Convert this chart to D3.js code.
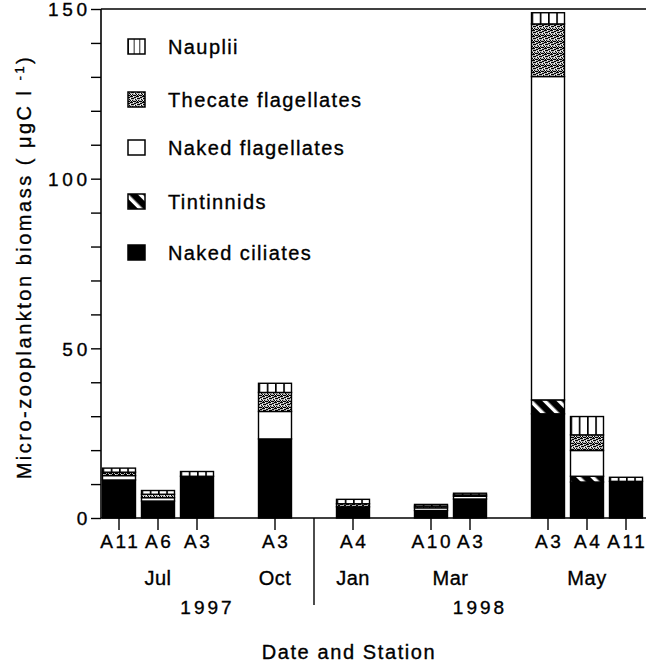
<!DOCTYPE html>
<html>
<head>
<meta charset="utf-8">
<script src="https://cdn.jsdelivr.net/npm/d3@7"></script>
<style>
  html, body { margin: 0; padding: 0; background: #fff; }
  svg { display: block; }
  text { font-family: Arial, "Liberation Sans", Helvetica, sans-serif; fill: #000;
         stroke: #000; stroke-width: 0.35px; }
</style>
</head>
<body>
<svg id="chart" width="646" height="666"></svg>
<script>
// Sampling occasions: station, month and year of each bar
const stations = ["A11", "A6", "A3", "A3", "A4", "A10", "A3", "A3", "A4", "A11"];
const months   = ["Jul", "Jul", "Jul", "Oct", "Jan", "Mar", "Mar", "May", "May", "May"];
const years    = ["1997", "1997", "1997", "1997", "1998", "1998", "1998", "1998", "1998", "1998"];

// Biomass of each group (µgC l-1), stacked from the bottom up
const nakedCiliates      = [11.2, 5.0, 12.3, 23.3, 3.3, 2.2, 5.6, 30.7, 10.6, 10.8];
const tintinnids         = [0.0, 0.0, 0.0, 0.0, 0.0, 0.0, 0.0, 4.1, 1.7, 0.0];
const nakedFlagellates   = [1.3, 1.0, 0.0, 8.1, 0.0, 0.8, 0.8, 95.3, 7.6, 0.0];
const thecateFlagellates = [1.0, 1.0, 0.0, 5.6, 0.9, 0.5, 0.4, 15.5, 4.6, 0.0];
const nauplii            = [1.2, 1.1, 1.4, 2.7, 1.3, 0.5, 0.5, 3.3, 5.4, 1.2];

const yTicks = [0, 50, 100, 150];
const groupNames = ["Naked ciliates", "Tintinnids", "Naked flagellates", "Thecate flagellates", "Nauplii"];

const svg = d3.select("#chart");
const W = 646, H = 666;
const m = { left: 101, right: 0, top: 9, bottom: 148 };
const y0 = H - m.bottom;

// ---- fill patterns ----
const defs = svg.append("defs");

// nauplii: vertical bars (4 columns per bar, 3 in the key)
function naupliiPattern(id, cols) {
  const p = defs.append("pattern").attr("id", id)
    .attr("patternUnits", "objectBoundingBox")
    .attr("patternContentUnits", "objectBoundingBox")
    .attr("width", 1 / cols).attr("height", 1);
  p.append("rect").attr("width", 1 / cols).attr("height", 1).attr("fill", "#fff");
  p.append("rect").attr("x", 0).attr("width", 0.05).attr("height", 1).attr("fill", "#000");
}
naupliiPattern("pat-naup", 4);
naupliiPattern("pat-naup-key", 3);

// thecate flagellates: stipple
const st = defs.append("pattern").attr("id", "pat-thec")
  .attr("patternUnits", "userSpaceOnUse").attr("width", 6).attr("height", 6);
st.append("rect").attr("width", 6).attr("height", 6).attr("fill", "#b4b4b4");
[[0,0],[2,1],[4,0],[1,2],[3,3],[5,2],[0,4],[2,5],[4,4],[5,5],[1,5],[3,1],[5,0],[0,2],[3,5]].forEach(([a, b]) =>
  st.append("rect").attr("x", a).attr("y", b).attr("width", 1).attr("height", 1).attr("fill", "#000"));
[[1,0],[4,2],[2,3],[5,4]].forEach(([a, b]) =>
  st.append("rect").attr("x", a).attr("y", b).attr("width", 1).attr("height", 1).attr("fill", "#fff"));

// tintinnids: black with white diagonal stripes
const tp = defs.append("pattern").attr("id", "pat-tint")
  .attr("patternUnits", "userSpaceOnUse").attr("width", 10).attr("height", 10)
  .attr("patternTransform", "rotate(-45)");
tp.append("rect").attr("width", 10).attr("height", 10).attr("fill", "#000");
tp.append("rect").attr("x", 0).attr("width", 3.5).attr("height", 10).attr("fill", "#fff");

const fills = ["#000", "url(#pat-tint)", "#fff", "url(#pat-thec)", "url(#pat-naup)"];
const keyFills = ["#000", "url(#pat-tint)", "#fff", "url(#pat-thec)", "url(#pat-naup-key)"];

// ---- scales ----
// each month forms a group; one empty slot separates consecutive months
const ids = stations.map((s, i) => months[i] + "-" + s + "-" + i);
const domain = [];
ids.forEach((id, i) => {
  if (i > 0 && months[i] !== months[i - 1]) domain.push("gap-" + i);
  domain.push(id);
});
const x = d3.scaleBand().domain(domain).range([99.5, 645.5])
  .paddingInner(0.154).paddingOuter(0.077);
const y = d3.scaleLinear().domain([0, 150]).range([y0, m.top]);

// ---- stacked bars ----
const series = [nakedCiliates, tintinnids, nakedFlagellates, thecateFlagellates, nauplii];
const rows = stations.map((s, i) => {
  const r = { id: ids[i] };
  groupNames.forEach((g, k) => r[g] = series[k][i]);
  return r;
});
const stacked = d3.stack().keys(groupNames)(rows);

const gBars = svg.append("g");
stacked.forEach((layer, k) => {
  gBars.selectAll(null).data(layer.filter(d => d[1] - d[0] > 0)).join("rect")
    .attr("x", d => x(d.data.id))
    .attr("width", x.bandwidth())
    .attr("y", d => y(d[1]))
    .attr("height", d => y(d[0]) - y(d[1]))
    .attr("fill", fills[k])
    .attr("stroke", "#000").attr("stroke-width", 1.4);
});

// ---- axes ----
const yAxis = d3.axisLeft(y).tickValues(d3.range(0, 151, 10)).tickSize(10)
  .tickFormat(d => yTicks.includes(d) ? d : "");
const gy = svg.append("g").attr("transform", `translate(${m.left},0)`).call(yAxis);
gy.select(".domain").attr("stroke-width", 1.6).attr("d", `M0,${y0}V${m.top}`);
gy.selectAll(".tick line").attr("stroke-width", 1.4);
gy.selectAll(".tick text").attr("font-size", 19).attr("letter-spacing", 3.8)
  .attr("x", -10).attr("dy", "0.36em").attr("font-family", "Arial, sans-serif");

// top border
svg.append("line").attr("x1", m.left).attr("x2", W).attr("y1", m.top).attr("y2", m.top)
  .attr("stroke", "#000").attr("stroke-width", 1.6);

// x axis with station ticks
const xAxis = d3.axisBottom(x).tickValues(ids).tickSize(12)
  .tickFormat(d => stations[ids.indexOf(d)]);
const gx = svg.append("g").attr("transform", `translate(0,${y0})`).call(xAxis);
gx.select(".domain").attr("stroke-width", 1.6).attr("d", `M${m.left},0H${W}`);
gx.selectAll(".tick line").attr("stroke-width", 1.4);
gx.selectAll(".tick text").attr("font-size", 19).attr("letter-spacing", 2.6).attr("y", 17)
  .attr("font-family", "Arial, sans-serif").attr("dx", 1.3);

// month labels centred under each group
const monthGroups = d3.groups(ids.map((id, i) => ({ id, m: months[i] })), d => d.m);
monthGroups.forEach(([mo, arr]) => {
  const cx = d3.mean(arr, d => x(d.id) + x.bandwidth() / 2);
  svg.append("text").attr("x", cx).attr("y", y0 + 67).attr("text-anchor", "middle")
    .attr("font-size", 20).attr("letter-spacing", 0.5).text(mo);
});

// year separator and labels
const firstNewYear = years.indexOf("1998");
const sepX = x("gap-" + firstNewYear) + x.bandwidth() / 2;
svg.append("line").attr("x1", sepX).attr("x2", sepX).attr("y1", y0).attr("y2", y0 + 87)
  .attr("stroke", "#000").attr("stroke-width", 1.4);
const yearSpans = [["1997", m.left, sepX], ["1998", sepX, W]];
yearSpans.forEach(([yr, a, b]) => {
  svg.append("text").attr("x", (a + b) / 2).attr("y", y0 + 96).attr("text-anchor", "middle")
    .attr("font-size", 19).attr("letter-spacing", 3).text(yr);
});

// axis titles
svg.append("text").attr("x", 349).attr("y", 659).attr("text-anchor", "middle")
  .attr("font-size", 20).attr("letter-spacing", 1.6).text("Date and Station");

const yt = svg.append("text").attr("transform", `translate(31,267) rotate(-90)`)
  .attr("text-anchor", "middle").attr("font-size", 20).attr("letter-spacing", 2.5);
yt.append("tspan").text("Micro-zooplankton biomass ( \u03bcgC l ");
yt.append("tspan").attr("font-size", 13).attr("baseline-shift", "7").text("-1");
yt.append("tspan").text(")");

// ---- key ----
const keyOrder = [4, 3, 2, 1, 0];
const keyY = [47, 100, 148, 202, 253];
const key = svg.append("g");
keyOrder.forEach((k, j) => {
  key.append("rect").attr("x", 128).attr("y", keyY[j] - 8).attr("width", 17).attr("height", 15)
    .attr("fill", keyFills[k]).attr("stroke", "#000").attr("stroke-width", 1.5);
  key.append("text").attr("x", 168).attr("y", keyY[j]).attr("dy", "0.36em")
    .attr("font-size", 20).attr("letter-spacing", 1.4).text(groupNames[k]);
});
</script>
</body>
</html>
